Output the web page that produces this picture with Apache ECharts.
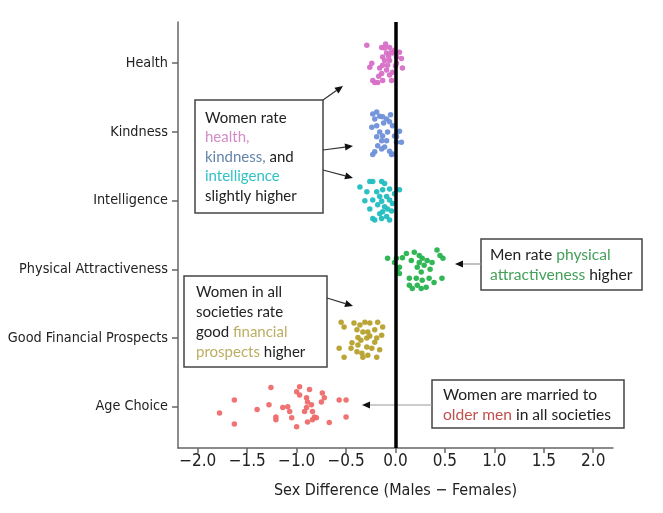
<!DOCTYPE html>
<html>
<head>
<meta charset="utf-8">
<script src="https://cdn.jsdelivr.net/npm/echarts@6/dist/echarts.min.js"></script>
<style>
html,body{margin:0;padding:0;background:#fff;}
#chart{width:663px;height:513px;}
</style>
</head>
<body>
<div id="chart"></div>
<script>
// categories bottom -> top (y value 1..6)
var categories = ['Age Choice','Good Financial Prospects','Physical Attractiveness','Intelligence','Kindness','Health'];
var colors = ['#ee6b6b','#b7a02c','#27b34d','#22bdc0','#6e90d8','#d86fc6'];
var xTicks = [-2,-1.5,-1,-0.5,0,0.5,1,1.5,2];

// sex difference per society, and vertical jitter (category units)
var ageX = [-1.78,-1.63,-1.63,-1.40,-1.28,-1.26,-1.21,-1.21,-1.14,-1.09,-1.07,-1.05,-1.00,-1.00,-0.97,-0.90,-0.89,-0.90,-0.92,-0.87,-0.85,-0.84,-0.89,-0.84,-0.80,-0.82,-0.74,-0.72,-0.75,-0.67,-0.57,-0.50,-0.50,-0.97];
var ageJ = [-0.09,0.10,-0.25,-0.04,0.03,0.28,-0.15,-0.19,-0.01,0.00,-0.07,-0.16,-0.29,0.22,0.29,0.13,0.07,-0.01,-0.07,0.25,0.03,-0.07,-0.22,-0.19,-0.16,-0.15,0.20,0.13,0.07,-0.23,0.10,0.10,-0.15,0.17];

var finX = [-0.55,-0.52,-0.42,-0.36,-0.31,-0.26,-0.18,-0.13,-0.39,-0.33,-0.28,-0.21,-0.14,-0.38,-0.29,-0.21,-0.44,-0.38,-0.29,-0.24,-0.57,-0.16,-0.39,-0.34,-0.28,-0.52,-0.19,-0.33,-0.45,-0.26,-0.35,-0.19];
var finJ = [0.23,0.16,0.22,0.19,0.23,0.22,0.23,0.16,0.12,0.09,0.09,0.12,0.04,0.01,0.00,-0.06,-0.07,-0.10,-0.13,-0.15,-0.15,-0.17,-0.20,-0.22,-0.25,-0.28,-0.28,-0.28,-0.15,0.03,-0.03,0.00];

var physX = [-0.08,-0.01,0.04,0.07,0.11,0.19,0.24,0.27,0.32,0.42,0.45,0.48,0.37,0.22,0.26,0.04,0.14,0.21,0.27,0.34,0.39,0.47,0.14,0.22,0.26,0.31,0.17,0.01,0.02,0.29,0.24,0.16,0.35];
var physJ = [0.16,0.10,0.03,0.17,0.23,0.25,0.20,0.16,0.13,0.28,0.20,0.16,0.10,0.03,-0.04,-0.06,-0.13,-0.13,-0.16,-0.13,-0.19,-0.13,-0.23,-0.23,-0.28,-0.26,-0.28,0.16,0.01,0.06,0.10,0.13,0.00];

var intX = [-0.36,-0.26,-0.23,-0.14,-0.11,-0.29,-0.19,-0.13,-0.06,0.04,-0.16,-0.09,-0.23,-0.14,-0.06,-0.03,-0.18,-0.26,-0.08,-0.13,-0.16,-0.23,-0.14,-0.09,-0.21,-0.06,-0.01,-0.11,-0.31,-0.04];
var intJ = [0.20,0.28,0.28,0.28,0.25,0.13,0.13,0.16,0.17,0.16,0.06,0.06,0.01,-0.01,0.01,-0.04,-0.06,-0.12,-0.12,-0.16,-0.19,-0.26,-0.26,-0.23,-0.28,-0.28,0.10,-0.09,0.00,-0.15];

var kindX = [-0.23,-0.19,-0.16,-0.13,-0.09,-0.21,-0.06,-0.19,-0.03,0.04,0.02,-0.16,-0.13,-0.19,-0.09,0.01,0.06,-0.18,-0.11,-0.14,-0.21,-0.06,-0.03,-0.23,-0.04,-0.01,0.01,-0.08,-0.14,-0.12,-0.24,-0.05];
var kindJ = [0.26,0.29,0.23,0.22,0.19,0.19,0.15,0.09,0.09,0.01,0.00,0.00,-0.06,-0.07,-0.13,-0.15,-0.15,-0.20,-0.22,-0.25,-0.29,-0.28,-0.32,-0.33,-0.33,-0.06,-0.07,0.00,-0.13,0.13,0.07,0.25];

var healthX = [-0.29,-0.14,-0.11,-0.06,-0.01,-0.04,-0.03,-0.09,-0.13,0.01,-0.11,-0.06,0.01,-0.24,-0.13,-0.08,-0.26,-0.16,0.07,-0.09,-0.03,-0.14,-0.06,-0.23,-0.13,-0.04,-0.21,-0.18,0.04,0.06,-0.10,-0.17,0.00,-0.07];
var healthJ = [0.26,0.23,0.22,0.23,0.19,0.16,0.15,0.15,0.09,0.09,0.04,0.04,0.00,0.00,-0.03,-0.03,-0.06,-0.07,-0.07,-0.10,-0.13,-0.15,-0.17,-0.25,-0.25,-0.25,-0.28,-0.28,0.16,0.07,0.28,-0.19,-0.04,0.10];

var allX = [ageX, finX, physX, intX, kindX, healthX];
var allJ = [ageJ, finJ, physJ, intJ, kindJ, healthJ];

var axisFont = "'DejaVu Sans Condensed','Liberation Sans Narrow',sans-serif";
var noteFont = "Lato, 'Open Sans', sans-serif";

// 组装散点系列
var series = [];
for (var c = 0; c < categories.length; c++) {
	var pts = [];
	for (var i = 0; i < allX[c].length; i++) {
		pts.push([allX[c][i], c + 1 + allJ[c][i]]);
	}
	series.push({
		name: categories[c],
		type: 'scatter',
		symbolSize: 5.5,
		itemStyle: { color: colors[c], opacity: 0.95 },
		data: pts
	});
}
// 0 处的黑色竖线
series[0].markLine = {
	silent: true,
	symbol: ['none','none'],
	label: { show: false },
	z: 10,
	lineStyle: { color: '#000', width: 3.5, type: 'solid' },
	data: [{ xAxis: 0 }]
};

// 箭头: 线段 + 三角形
function arrow(x1, y1, x2, y2, lineColor) {
	var a = Math.atan2(y2 - y1, x2 - x1);
	var L = 8, W = 3.5;
	var bx = x2 - L * Math.cos(a), by = y2 - L * Math.sin(a);
	return [
		{ type: 'line', shape: { x1: x1, y1: y1, x2: bx, y2: by }, style: { stroke: lineColor || '#333', lineWidth: 1.2 } },
		{ type: 'polygon', shape: { points: [[x2, y2], [bx - W * Math.sin(a), by + W * Math.cos(a)], [bx + W * Math.sin(a), by - W * Math.cos(a)]] }, style: { fill: '#111' } }
	];
}
function box(x, y, w, h) {
	return { type: 'rect', shape: { x: x, y: y, width: w, height: h }, style: { fill: '#fff', stroke: '#444', lineWidth: 1.5 } };
}
function note(x, y, text, size, lh, rich) {
	var r = {};
	for (var k in rich) r[k] = { fill: rich[k], fontSize: size, fontFamily: noteFont, lineHeight: lh };
	return { type: 'text', x: x, y: y, style: { text: text, fill: '#222', fontSize: size, fontFamily: noteFont, lineHeight: lh, rich: r } };
}

var graphics = [];
graphics.push(box(195, 100, 128, 113));
graphics.push(note(205, 108, 'Women rate\n{h|health,}\n{k|kindness,} and\n{i|intelligence}\nslightly higher', 15, 19.5,
	{ h: '#d48cc6', k: '#6484ae', i: '#33c2c4' }));
graphics = graphics.concat(arrow(323, 100, 343, 86), arrow(323, 150, 353, 146), arrow(323, 170, 353, 178));

graphics.push(box(184, 276, 143, 91));
graphics.push(note(196, 282, 'Women in all\nsocieties rate\ngood {f|financial}\n{f|prospects} higher', 15, 20,
	{ f: '#bcae62' }));
graphics = graphics.concat(arrow(327, 298, 353, 306));

graphics.push(box(481, 239, 161, 51));
graphics.push(note(490, 245, 'Men rate {p|physical}\n{p|attractiveness} higher', 15.6, 20, { p: '#44a05a' }));
graphics = graphics.concat(arrow(481, 264, 455, 264, '#999'));

graphics.push(box(432, 380, 192, 48));
graphics.push(note(443, 385, 'Women are married to\n{o|older men} in all societies', 15.6, 20, { o: '#c0504d' }));
graphics = graphics.concat(arrow(432, 405, 362, 405, '#999'));

var myChart = echarts.init(document.getElementById('chart'));
var option = {
	animation: false,
	backgroundColor: '#fff',
	grid: { left: 178, right: 50, top: 22, bottom: 65 },
	xAxis: {
		type: 'value',
		min: -2.2,
		max: 2.2,
		name: 'Sex Difference (Males \u2212 Females)',
		nameLocation: 'middle',
		nameGap: 35,
		nameTextStyle: { color: '#222', fontSize: 16, fontFamily: axisFont },
		axisLine: { show: true, onZero: false, lineStyle: { color: '#666', width: 1.5 } },
		axisTick: { show: true, length: 5, customValues: xTicks, lineStyle: { color: '#666', width: 1.5 } },
		axisLabel: {
			customValues: xTicks,
			margin: 5,
			color: '#222', fontSize: 17, fontFamily: axisFont,
			formatter: function (v) { return (v < 0 ? '\u2212' : '') + Math.abs(v).toFixed(1); }
		},
		splitLine: { show: false }
	},
	yAxis: {
		type: 'value',
		min: 0.4,
		max: 6.6,
		axisLine: { show: true, onZero: false, lineStyle: { color: '#666', width: 1.5 } },
		axisTick: { show: true, length: 6, customValues: [1,2,3,4,5,6], lineStyle: { color: '#666', width: 1.5 } },
		axisLabel: {
			customValues: [1,2,3,4,5,6],
			margin: 10,
			color: '#222', fontSize: 14.3, fontFamily: axisFont,
			formatter: function (v) { return categories[Math.round(v) - 1]; }
		},
		splitLine: { show: false }
	},
	series: series,
	graphic: graphics
};
myChart.setOption(option);
</script>
</body>
</html>
